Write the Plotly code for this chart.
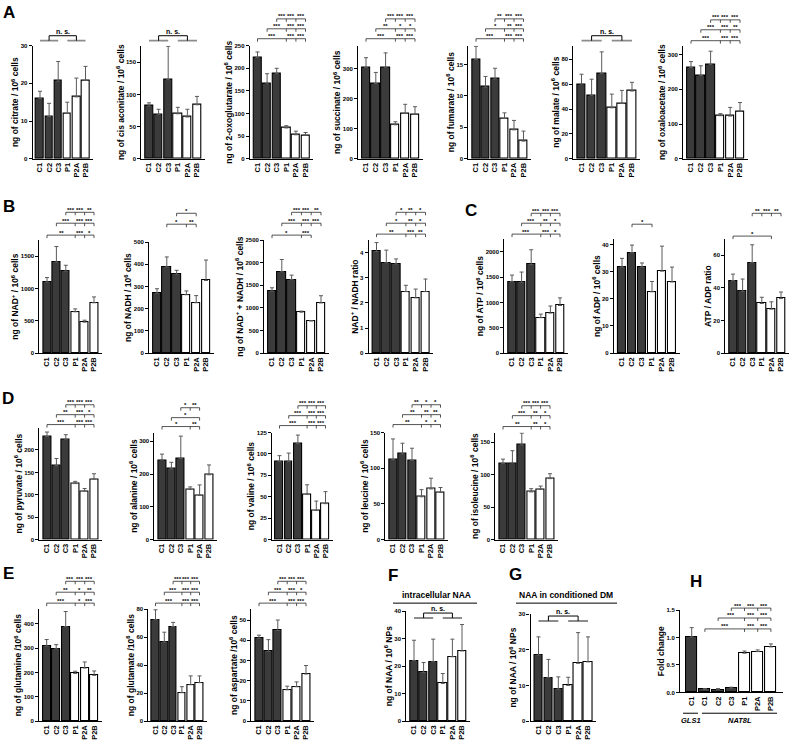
import plotly.graph_objects as go

W, H = 790, 745
FONT = "Liberation Sans, Arial, Helvetica, sans-serif"
DARK = "#3b3b3b"

# ---------------- data ----------------
groups = ["C1", "C2", "C3", "P1", "P2A", "P2B"]
fold_groups = ["C1", "C1", "C2", "C3", "P1", "P2A", "P2B"]

citrate = [16.0, 11.2, 20.6, 12.0, 16.4, 20.8]
citrate_sem = [1.9, 3.5, 5.2, 3.0, 5.0, 3.7]
cis_aconitate = [82, 69, 123, 70, 65, 84]
cis_aconitate_sem = [5, 8, 52, 10, 12, 13]
oxoglutarate = [224, 167, 188, 68, 53, 52]
oxoglutarate_sem = [12, 21, 12, 5, 8, 6]
succinate = [304, 250, 304, 113, 151, 148]
succinate_sem = [32, 37, 48, 10, 30, 25]
fumarate = [15.8, 11.4, 12.7, 6.4, 4.6, 2.8]
fumarate_sem = [2.1, 1.7, 1.7, 0.9, 1.5, 1.6]
malate = [60, 51, 68.5, 41, 44.5, 54.5]
malate_sem = [8, 13, 17.5, 11, 10.5, 7]
oxaloacetate = [263, 240, 272, 124, 123, 137]
oxaloacetate_sem = [17, 28, 38, 6, 25, 25]

nad = [1100, 1410, 1270, 640, 480, 780]
nad_sem = [70, 240, 90, 45, 30, 90]
nadh = [270, 388, 355, 263, 227, 327]
nadh_sem = [20, 45, 18, 17, 32, 92]
nad_total = [1370, 1800, 1625, 905, 710, 1110]
nad_total_sem = [75, 270, 100, 25, 10, 160]
nad_ratio = [4.05, 3.6, 3.55, 2.45, 2.2, 2.45]
nad_ratio_sem = [0.35, 0.5, 0.2, 0.25, 0.35, 0.5]

atp = [1410, 1400, 1750, 700, 790, 940]
atp_sem = [130, 200, 290, 70, 140, 150]
adp = [31.7, 37.0, 31.7, 22.6, 30.2, 26.2]
adp_sem = [3.2, 2.8, 1.5, 3.8, 9.2, 5.5]
atp_adp = [44.5, 38.0, 55.5, 30.5, 27.0, 33.5]
atp_adp_sem = [4.0, 7.5, 11.0, 3.8, 4.5, 4.0]

pyruvate = [230, 165, 224, 125, 108, 135]
pyruvate_sem = [10, 16, 10, 5, 6, 12]
alanine = [243, 216, 248, 153, 135, 198]
alanine_sem = [18, 20, 68, 8, 32, 30]
valine = [91, 91, 112, 53, 34, 42]
valine_sem = [7, 10, 10, 11, 11, 14]
leucine = [112, 120, 111, 60, 71, 66]
leucine_sem = [29, 15, 17, 10, 15, 7]
isoleucine = [117, 118, 146, 73.5, 77.5, 94]
isoleucine_sem = [7, 19, 18, 5, 5, 7.5]

glutamine = [308, 297, 388, 196, 218, 188]
glutamine_sem = [27, 17, 62, 9, 25, 18]
glutamate = [72.5, 56.5, 67.5, 20.3, 26.0, 27.5]
glutamate_sem = [7.0, 7.0, 3.0, 4.3, 6.3, 4.8]
aspartate = [41.0, 34.5, 44.8, 15.5, 17.0, 23.3]
aspartate_sem = [1.5, 5.8, 5.2, 1.8, 2.4, 4.2]

naa_intracellular = [22.0, 17.7, 21.6, 13.7, 23.4, 25.5]
naa_intracellular_sem = [7.4, 3.6, 8.2, 3.6, 6.4, 9.6]
naa_medium = [18.5, 12.2, 9.0, 10.0, 16.2, 16.6]
naa_medium_sem = [5.1, 5.1, 3.4, 2.3, 8.6, 7.0]

fold_change = [1.01, 0.055, 0.05, 0.075, 0.714, 0.744, 0.829]
fold_change_sem = [0.17, 0.015, 0.02, 0.02, 0.04, 0.03, 0.055]


def std(l1, l2, l3):
    """rows: C1, C2, C3 compared with P1, P2A, P2B"""
    return [(0, list(zip([3, 4, 5], l1))), (1, list(zip([3, 4, 5], l2))), (2, list(zip([3, 4, 5], l3)))]


S3 = ["***", "***", "***"]
sig_oxoglutarate = std(S3, S3, S3)
sig_succinate = std(S3, ["**", "*", "*"], S3)
sig_fumarate = std(S3, ["*", "**", "***"], ["**", "***", "***"])
sig_oxaloacetate = std(S3, ["***", "***", "**"], S3)
sig_nad = std(["**", "***", "*"], S3, ["***", "***", "**"])
sig_nadh = [(1, [(3, "*"), (4, "**")]), (2, [(4, "*")])]
sig_nad_total = [(0, [(3, "*"), (4, "***")]), (1, list(zip([3, 4, 5], S3))), (2, list(zip([3, 4, 5], ["***", "***", "**"])))]
sig_nad_ratio = std(["**", "***", "**"], ["*", "**", "*"], ["*", "**", "*"])
sig_atp = std(["***", "***", "*"], ["***", "**", "*"], S3)
sig_adp = [(1, [(3, "*")])]
sig_atp_adp = [(0, [(4, "*")]), (2, [(3, "**"), (4, "***"), (5, "**")])]
sig_pyruvate = std(S3, ["**", "***", "*"], S3)
sig_alanine = [(0, [(3, "*"), (4, "**")]), (1, [(4, "*")]), (2, [(3, "*"), (4, "**")])]
sig_valine = std(S3, S3, S3)
sig_leucine = std(["**", "*", "*"], ["**", "**", "**"], ["**", "*", "*"])
sig_isoleucine = std(["**", "**", "*"], ["***", "**", "*"], S3)
sig_glutamine = std(["***", "*", "***"], ["**", "*", "**"], S3)
sig_glutamate = std(S3, S3, S3)
sig_aspartate = std(S3, ["***", "***", "*"], S3)
sig_fold = [(1, list(zip([4, 5, 6], S3))), (2, list(zip([4, 5, 6], S3))), (3, list(zip([4, 5, 6], S3)))]

SUP6 = "10<sup>6</sup>"

# ---------------- layout helpers ----------------
fig = go.Figure()
shapes = []
annos = []


def px(x):
    return x / W


def py(y):
    return 1 - y / H


def add_panel(i, cats, vals, errs, n_dark, title, c0, s, bot, top, ymax, ticks,
              ticktext=None, pad=0.8):
    key = "" if i == 1 else str(i)
    xa, ya = "x" + key, "y" + key
    n = len(vals)
    colors = [DARK] * n_dark + ["white"] * (n - n_dark)
    fig.add_trace(go.Bar(
        x=list(range(n)), y=vals, width=0.85,
        marker=dict(color=colors, line=dict(color="black", width=1.1)),
        error_y=dict(type="data", array=errs, arrayminus=[0] * n, symmetric=False,
                     color="#5a5a5a", thickness=1, width=2),
        xaxis=xa, yaxis=ya, showlegend=False, hoverinfo="skip"))
    fig.layout["xaxis" + key] = dict(
        domain=[px(c0 - pad * s), px(c0 + (n - 1 + pad) * s)],
        range=[-pad, n - 1 + pad], anchor=ya,
        tickvals=list(range(n)), ticktext=cats, tickangle=-90,
        tickfont=dict(size=7.5, family=FONT, color="black", weight="bold"),
        showline=True, linecolor="black", linewidth=1.2, showgrid=False,
        zeroline=False, ticks="", fixedrange=True)
    fig.layout["yaxis" + key] = dict(
        domain=[py(bot), py(top)], range=[0, ymax], anchor=xa,
        tickvals=ticks, ticktext=ticktext if ticktext else [str(t) for t in ticks],
        ticks="outside", ticklen=3, tickwidth=1, tickcolor="black",
        tickfont=dict(size=6, family=FONT, color="black", weight="bold"),
        showline=True, linecolor="black", linewidth=1.2, showgrid=False,
        zeroline=False, fixedrange=True,
        title=dict(text=title, font=dict(size=8.5, family=FONT, color="black", weight="bold"),
                   standoff=0))
    return xa


def seg(xref, x0, x1, y0, y1, color="#2a2a2a", width=0.8):
    shapes.append(dict(type="line", xref=xref, yref="paper", x0=x0, x1=x1,
                       y0=py(y0), y1=py(y1), line=dict(color=color, width=width)))


def add_brackets(xref, rows, ys):
    for (start, ends), ypx in zip(rows, ys):
        last = ends[-1][0]
        seg(xref, start, last, ypx, ypx)
        seg(xref, start, start, ypx, ypx + 3)
        prev = start
        for idx, lab in ends:
            seg(xref, idx, idx, ypx, ypx + 3)
            annos.append(dict(xref=xref, yref="paper", x=(prev + idx) / 2, y=py(ypx + 2.5),
                              text=lab, showarrow=False, yanchor="bottom", xanchor="center",
                              font=dict(size=6, family=FONT, color="black", weight="bold")))
            prev = idx


def add_ns(xref, gy):
    by = gy - 5
    seg(xref, 0, 2, gy, gy, color="#8c8c8c", width=1.8)
    seg(xref, 3, 5, gy, gy, color="#8c8c8c", width=1.8)
    seg(xref, 1, 4, by, by, color="black", width=1)
    seg(xref, 1, 1, by, gy, color="black", width=1)
    seg(xref, 4, 4, by, gy, color="black", width=1)
    annos.append(dict(xref=xref, yref="paper", x=2.5, y=py(by + 1), text="n. s.",
                      showarrow=False, yanchor="bottom", xanchor="center",
                      font=dict(size=7, family=FONT, color="black", weight="bold")))


def label(text, x, y, size=17):
    annos.append(dict(xref="paper", yref="paper", x=px(x), y=py(y), text=text,
                      showarrow=False, xanchor="center", yanchor="middle",
                      font=dict(size=size, family=FONT, color="black", weight="bold")))


# ---------------- row A ----------------
x = add_panel(1, groups, citrate, citrate_sem, 3, "ng of citrate / " + SUP6 + " cells",
              40, 9.1, 157, 43, 30, [0, 10, 20, 30])
add_ns(x, 38)
x = add_panel(2, groups, cis_aconitate, cis_aconitate_sem, 3, "ng of cis aconitate / " + SUP6 + " cells",
              149, 9.6, 157, 43, 176, [0, 50, 100, 150])
add_ns(x, 38)
x = add_panel(3, groups, oxoglutarate, oxoglutarate_sem, 3, "ng of 2-oxoglutarate / " + SUP6 + " cells",
              257.5, 9.6, 157, 43, 250, [0, 50, 100, 150, 200, 250])
add_brackets(x, sig_oxoglutarate, [36, 26, 16])
x = add_panel(4, groups, succinate, succinate_sem, 3, "ng of succinate / " + SUP6 + " cells",
              366, 9.8, 157, 43, 376, [0, 100, 200, 300])
add_brackets(x, sig_succinate, [36, 26, 16])
x = add_panel(5, groups, fumarate, fumarate_sem, 3, "ng of fumarate / " + SUP6 + " cells",
              476, 9.5, 157, 43, 18, [0, 5, 10, 15])
add_brackets(x, sig_fumarate, [36, 26, 16])
x = add_panel(6, groups, malate, malate_sem, 3, "ng of malate / " + SUP6 + " cells",
              581.5, 10.1, 157, 43, 91, [0, 20, 40, 60, 80])
add_ns(x, 38)
x = add_panel(7, groups, oxaloacetate, oxaloacetate_sem, 3, "ng of oxaloacetate / " + SUP6 + " cells",
              691, 9.8, 157, 43, 326, [0, 100, 200, 300])
add_brackets(x, sig_oxaloacetate, [38, 27, 17])

# ---------------- row B / C ----------------
x = add_panel(8, groups, nad, nad_sem, 3, "ng of NAD<sup>+</sup> / " + SUP6 + " cells",
              47, 9.4, 353, 239, 1750, [0, 500, 1000, 1500])
add_brackets(x, sig_nad, [234, 222, 211])
x = add_panel(9, groups, nadh, nadh_sem, 3, "ng of NADH / " + SUP6 + " cells",
              157, 9.8, 353, 241, 500, [0, 100, 200, 300, 400, 500])
add_brackets(x, sig_nadh, [223, 212])
x = add_panel(10, groups, nad_total, nad_total_sem, 3, "ng of NAD<sup>+</sup> + NADH / " + SUP6 + " cells",
              272, 9.8, 353, 239, 2500, [0, 500, 1000, 1500, 2000, 2500])
add_brackets(x, sig_nad_total, [234, 222, 211])
x = add_panel(11, groups, nad_ratio, nad_ratio_sem, 3, "NAD<sup>+</sup> / NADH ratio",
              376.5, 9.8, 353, 239, 4.5, [0, 1, 2, 3, 4])
add_brackets(x, sig_nad_ratio, [233, 222, 211])
x = add_panel(12, groups, atp, atp_sem, 3, "ng of ATP / " + SUP6 + " cells",
              512, 9.6, 353, 238, 2250, [0, 500, 1000, 1500, 2000])
add_brackets(x, sig_atp, [233, 222, 212])
x = add_panel(13, groups, adp, adp_sem, 3, "ng of ADP / " + SUP6 + " cells",
              622, 10, 353, 238, 42, [0, 10, 20, 30, 40])
add_brackets(x, sig_adp, [223])
x = add_panel(14, groups, atp_adp, atp_adp_sem, 3, "ATP / ADP ratio",
              733, 9.6, 353, 238, 70, [0, 20, 40, 60])
add_brackets(x, sig_atp_adp, [235, 212])

# ---------------- row D ----------------
x = add_panel(15, groups, pyruvate, pyruvate_sem, 3, "ng of pyruvate / " + SUP6 + " cells",
              47, 9.4, 541, 428, 250, [0, 50, 100, 150, 200])
add_brackets(x, sig_pyruvate, [425, 415, 405])
x = add_panel(16, groups, alanine, alanine_sem, 3, "ng of alanine / " + SUP6 + " cells",
              162, 9.4, 541, 433, 327, [0, 100, 200, 300])
add_brackets(x, sig_alanine, [427, 418, 408])
x = add_panel(17, groups, valine, valine_sem, 3, "ng of valine / " + SUP6 + " cells",
              279.5, 9.2, 541, 433, 125, [0, 25, 50, 75, 100, 125])
add_brackets(x, sig_valine, [426, 416, 406])
x = add_panel(18, groups, leucine, leucine_sem, 3, "ng of leucine / " + SUP6 + " cells",
              393, 9.5, 541, 433, 150, [0, 50, 100, 150])
add_brackets(x, sig_leucine, [425, 415, 405])
x = add_panel(19, groups, isoleucine, isoleucine_sem, 3, "ng of isoleucine / " + SUP6 + " cells",
              503, 9.4, 541, 433, 165, [0, 50, 100, 150])
add_brackets(x, sig_isoleucine, [427, 416, 406])

# ---------------- row E / F / G / H ----------------
x = add_panel(20, groups, glutamine, glutamine_sem, 3, "ng of glutamine /" + SUP6 + " cells",
              46.7, 9.5, 724, 611, 460, [0, 100, 200, 300, 400])
add_brackets(x, sig_glutamine, [605, 594, 583])
x = add_panel(21, groups, glutamate, glutamate_sem, 3, "ng of glutamate /" + SUP6 + " cells",
              155.5, 8.8, 724, 611, 80, [0, 20, 40, 60, 80])
add_brackets(x, sig_glutamate, [605, 594, 583])
x = add_panel(22, groups, aspartate, aspartate_sem, 3, "ng of aspartate /" + SUP6 + " cells",
              259, 9.4, 724, 611, 55.4, [0, 10, 20, 30, 40, 50])
add_brackets(x, sig_aspartate, [605, 594, 583])
x = add_panel(23, groups, naa_intracellular, naa_intracellular_sem, 3, "ng of NAA / " + SUP6 + " NPs",
              414, 9.6, 724, 613, 40, [0, 10, 20, 30, 40])
add_ns(x, 620)
x = add_panel(24, groups, naa_medium, naa_medium_sem, 3, "ng of NAA / " + SUP6 + " NPs",
              538.5, 9.9, 724, 616, 30, [0, 10, 20, 30])
add_ns(x, 623)
x = add_panel(25, fold_groups, fold_change, fold_change_sem, 4, "Fold change",
              691.7, 13.2, 695, 612, 1.5, [0, 0.5, 1.0, 1.5],
              ticktext=["0.0", "0.5", "1.0", "1.5"], pad=0.88)
add_brackets(x, sig_fold, [631, 620, 610])

# titles of F / G
annos.append(dict(xref="paper", yref="paper", x=px(436), y=py(604), text="intracellular NAA",
                  showarrow=False, xanchor="center", yanchor="bottom",
                  font=dict(size=8.5, family=FONT, color="black", weight="bold")))
shapes.append(dict(type="line", xref="paper", yref="paper", x0=px(393), x1=px(477),
                   y0=py(605), y1=py(605), line=dict(color="black", width=1)))
annos.append(dict(xref="paper", yref="paper", x=px(566), y=py(604), text="NAA in conditioned DM",
                  showarrow=False, xanchor="center", yanchor="bottom",
                  font=dict(size=8.5, family=FONT, color="black", weight="bold")))
shapes.append(dict(type="line", xref="paper", yref="paper", x0=px(516), x1=px(617),
                   y0=py(605), y1=py(605), line=dict(color="black", width=1)))

# gene group labels of H
for txt, x0, x1 in [("GLS1", 683, 698), ("NAT8L", 702, 777)]:
    shapes.append(dict(type="line", xref="paper", yref="paper", x0=px(x0), x1=px(x1),
                       y0=py(716), y1=py(716), line=dict(color="black", width=1)))
    annos.append(dict(xref="paper", yref="paper", x=px((x0 + x1) / 2), y=py(717), text="<i>" + txt + "</i>",
                      showarrow=False, xanchor="center", yanchor="top",
                      font=dict(size=7.5, family=FONT, color="black", weight="bold")))

# panel letters
for t, lx, ly in [("A", 9, 10), ("B", 9, 205), ("C", 471, 209), ("D", 8, 399),
                  ("E", 8, 575), ("F", 393, 577), ("G", 515, 576), ("H", 696, 583)]:
    label(t, lx, ly)

fig.update_layout(width=W, height=H, margin=dict(l=0, r=0, t=0, b=0),
                  paper_bgcolor="white", plot_bgcolor="white",
                  font=dict(family=FONT, color="black"),
                  shapes=shapes, annotations=annos, bargap=0, showlegend=False)
fig.write_html("out.html")
